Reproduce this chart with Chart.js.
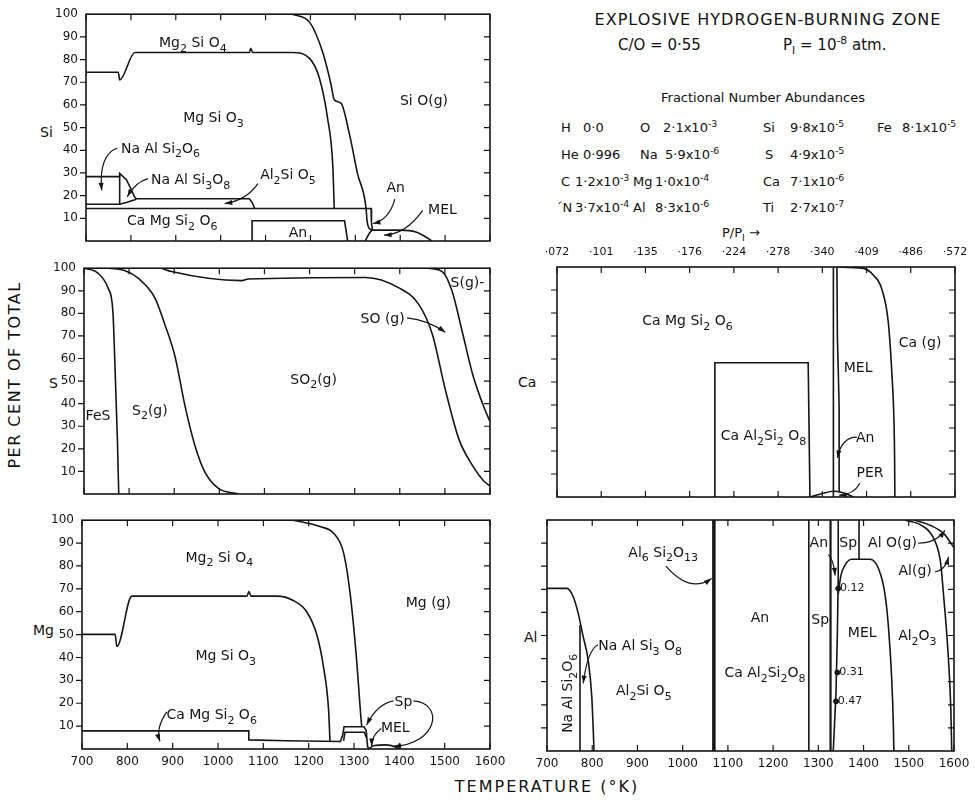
<!DOCTYPE html>
<html>
<head>
<meta charset="utf-8">
<script src="https://cdn.jsdelivr.net/npm/chart.js@4.4.0/dist/chart.umd.min.js"></script>
<style>
body { margin: 0; background: #fff; width: 975px; height: 802px; position: relative; overflow: hidden; font-family: "DejaVu Sans", sans-serif; color: #111; }
canvas { position: absolute; }
.t { position: absolute; white-space: nowrap; line-height: 1; }
.t sub, .t sup { font-size: 72%; line-height: 0; }
.c { transform: translateX(-50%); }
</style>
</head>
<body>

<!-- header block -->
<div class="t c" style="left:768px;top:12px;font-size:16px;letter-spacing:1px">EXPLOSIVE HYDROGEN-BURNING ZONE</div>
<div class="t" style="left:618px;top:38px;font-size:15px">C/O = 0·55</div>
<div class="t" style="left:783px;top:38px;font-size:15px">P<sub>I</sub> = 10<sup>-8</sup> atm.</div>
<div class="t c" style="left:763px;top:91px;font-size:13px">Fractional Number Abundances</div>

<div class="t" style="left:561px;top:121px;font-size:13px">H</div><div class="t" style="left:583px;top:121px;font-size:13px">0·0</div>
<div class="t" style="left:640px;top:121px;font-size:13px">O</div><div class="t" style="left:663px;top:121px;font-size:13px">2·1x10<sup>-3</sup></div>
<div class="t" style="left:763px;top:121px;font-size:13px">Si</div><div class="t" style="left:790px;top:121px;font-size:13px">9·8x10<sup>-5</sup></div>
<div class="t" style="left:877px;top:121px;font-size:13px">Fe</div><div class="t" style="left:902px;top:121px;font-size:13px">8·1x10<sup>-5</sup></div>

<div class="t" style="left:561px;top:148px;font-size:13px">He</div><div class="t" style="left:583px;top:148px;font-size:13px">0·996</div>
<div class="t" style="left:640px;top:148px;font-size:13px">Na</div><div class="t" style="left:665px;top:148px;font-size:13px">5·9x10<sup>-6</sup></div>
<div class="t" style="left:765px;top:148px;font-size:13px">S</div><div class="t" style="left:790px;top:148px;font-size:13px">4·9x10<sup>-5</sup></div>

<div class="t" style="left:561px;top:175px;font-size:13px">C</div><div class="t" style="left:575px;top:175px;font-size:13px">1·2x10<sup>-3</sup></div>
<div class="t" style="left:633px;top:175px;font-size:13px">Mg</div><div class="t" style="left:655px;top:175px;font-size:13px">1·0x10<sup>-4</sup></div>
<div class="t" style="left:763px;top:175px;font-size:13px">Ca</div><div class="t" style="left:790px;top:175px;font-size:13px">7·1x10<sup>-6</sup></div>

<div class="t" style="left:556px;top:201px;font-size:13px">´N</div><div class="t" style="left:575px;top:201px;font-size:13px">3·7x10<sup>-4</sup></div>
<div class="t" style="left:633px;top:201px;font-size:13px">Al</div><div class="t" style="left:655px;top:201px;font-size:13px">8·3x10<sup>-6</sup></div>
<div class="t" style="left:763px;top:201px;font-size:13px">Ti</div><div class="t" style="left:790px;top:201px;font-size:13px">2·7x10<sup>-7</sup></div>

<div class="t" style="left:722px;top:226px;font-size:13px">P/P<sub>I</sub> &#x2192;</div>

<!-- axis titles -->
<div class="t" style="left:15px;top:375px;font-size:16px;letter-spacing:1.5px;transform:translate(-50%,-50%) rotate(-90deg)">PER CENT OF TOTAL</div>
<div class="t c" style="left:547px;top:779px;font-size:16px;letter-spacing:2px">TEMPERATURE (°K)</div>
<div class="t" style="left:40px;top:125px;font-size:14px">Si</div>
<div class="t" style="left:49px;top:376px;font-size:14px">S</div>
<div class="t" style="left:33px;top:623px;font-size:14px">Mg</div>
<div class="t" style="left:518px;top:375px;font-size:14px">Ca</div>
<div class="t" style="left:524px;top:630px;font-size:14px">Al</div>

<script>
// Temperature grid (K) and the P/P_I values along the top of the Ca panel
const tempTicks = [700, 800, 900, 1000, 1100, 1200, 1300, 1400, 1500, 1600];
const pRatio = ['·072', '·101', '·135', '·176', '·224', '·278', '·340', '·409', '·486', '·572'];

// ---- Si: phase boundaries, [T, per cent]
const siSiO = [[1160,100],[1198,96.5],[1227,83.4],[1246,68.9],[1253,62.3],[1268,60.8],[1287,47],[1305,29.6],[1324,14.3],[1326,9],[1330,5.8],[1338,4.8]];
const siForst = [[700,74.4],[772,74.4],[775,71],[809,83.1],[1064,83.1],[1067,85],[1071,83.1],[1160,83.1],[1198,80.5],[1220,71.8],[1238,54.3],[1250,32.4],[1253,14.3]];
const siAlbite = [[700,28.4],[775,28.4],[775,29.8],[790,27],[800,23],[808,19.5],[812,18.6],[1064,18.6],[1070,17],[1076,14.3]];
const siJadeite = [[700,16.2],[775,16.2],[790,17],[812,18.4]];
const siJadEdge = [[775,16.2],[775,28.4]];
const siDiops = [[700,14.3],[1335,14.3],[1336,8],[1338,4.8]];
const siAnorth = [[1070,0],[1070,8.9],[1276,8.9],[1283,0]];
const siMel = [[1322,0],[1330,3],[1338,4.8],[1400,4.8],[1435,4],[1455,2],[1471,0]];

// ---- S
const sFeS = [[700,100],[731,97.8],[753,91.3],[764,81],[768,60.7],[774,24.3],[777,0]];
const sS2 = [[755,100],[790,99],[820,95.6],[857,86.9],[879,75.2],[902,60.7],[924,38.9],[946,21.4],[968,9.7],[998,2.5],[1042,0]];
const sSO2 = [[872,100],[894,98.5],[1050,94.5],[1064,95.2],[1324,95.9],[1398,91.3],[1442,84],[1472,70.9],[1501,46.2],[1531,24.3],[1561,12.7],[1585,6],[1600,3.5]];
const sSg = [[1464,100],[1494,98.5],[1516,89.8],[1538,72.3],[1561,53.4],[1583,40.3],[1600,32]];

// ---- Mg
const mgGas = [[1166,100],[1225,97.2],[1255,94.3],[1277,85.7],[1292,67],[1306,38.4],[1314,16.9],[1317,9.7]];
const mgForst = [[700,50.1],[773,50.1],[777,44.8],[810,66.8],[1064,66.8],[1068,68.8],[1073,66.8],[1130,66.8],[1166,64.9],[1196,59.9],[1218,49.9],[1233,35.5],[1244,16.9],[1247,3.3]];
const mgDiops = [[700,7.9],[1068,7.9],[1068,4],[1150,3.6],[1270,3.3],[1275,6],[1278,9.7],[1322,9.7],[1327,8],[1330,1],[1333,0]];
const mgSpinel = [[1277,3.5],[1280,7.3],[1323,7.3],[1327,5]];
const mgMel = [[1332,0],[1345,1.5],[1370,1.8],[1390,1],[1398,0]];

// ---- Ca
const caAnorth = [[1057,0],[1057,58.4],[1268,58.4],[1272,0]];
const caAnL = [[1325,0],[1325,100]];
const caAnR = [[1333,100],[1334,70],[1336,55],[1338,39],[1338,2]];
const caGas = [[1333,100],[1393,99.4],[1415,96.5],[1434,90.7],[1449,76.2],[1457,54.5],[1462,32.7],[1463.5,15.3],[1464,0]];
const caPer = [[1272,0],[1300,1.5],[1325,2.5],[1345,2],[1370,0]];

// ---- Al
const alNa = [[700,70.4],[744,70.4],[758,66.8],[769,59.6],[780,49.5],[791,39.4],[799,23.5],[802,10.5],[804,0]];
const alJadEdge = [[773,0],[773,54.5]];
const alMullite = [[1069,0],[1069,100]];
const alAnSp = [[1279,0],[1279,100]];
const alSpAn = [[1327,0],[1327,100]];
const alSpMel = [[1344,100],[1344,75],[1342,50],[1339,25],[1333,0]];
const alMel = [[1344,68],[1350,76],[1359,80.5],[1374,83],[1414,83],[1433,79],[1447,68.3],[1455,53.8],[1462,32.2],[1466,10.5],[1467,0]];
const alSpAlO = [[1390,100],[1390,83]];
const alCorund = [[1492,100],[1530,97.5],[1555,92],[1570,82],[1578,65],[1586,45],[1593,18],[1595,0]];
const alGas = [[1512,100],[1550,97.5],[1578,94],[1593,90],[1600,88]];
const alDots = [[1344,70.4],[1342,34],[1339,21.5]];
const alDotText = ['0.12', '0.31', '0.47'];

const INK = '#151515';
const FONT = '"DejaVu Sans", sans-serif';

// tiny markup: _x subscript, ^x superscript, {} groups
function parseRich(s) {
    const out = [];
    let buf = '', i = 0;
    while (i < s.length) {
        const ch = s[i];
        if (ch === '_' || ch === '^') {
            if (buf) { out.push({ t: buf, m: 0 }); buf = ''; }
            let t;
            if (s[i + 1] === '{') { const j = s.indexOf('}', i); t = s.slice(i + 2, j); i = j + 1; }
            else { t = s[i + 1]; i += 2; }
            out.push({ t: t, m: ch === '_' ? 1 : -1 });
        } else { buf += ch; i++; }
    }
    if (buf) out.push({ t: buf, m: 0 });
    return out;
}

function drawRich(ctx, s, x, y, size, align, rot) {
    const segs = parseRich(s);
    const small = Math.round(size * 0.78);
    let w = 0;
    segs.forEach(g => { ctx.font = (g.m ? small : size) + 'px ' + FONT; g.w = ctx.measureText(g.t).width; w += g.w; });
    ctx.save();
    ctx.translate(x, y);
    if (rot) ctx.rotate(rot);
    let cx = align === 'left' ? 0 : (align === 'right' ? -w : -w / 2);
    ctx.textAlign = 'left';
    ctx.textBaseline = 'middle';
    ctx.fillStyle = INK;
    segs.forEach(g => {
        ctx.font = (g.m ? small : size) + 'px ' + FONT;
        ctx.fillText(g.t, cx, g.m * size * 0.38);
        cx += g.w;
    });
    ctx.restore();
}

// frame, tick marks, phase names and leader arrows, all placed through the scales
function overlay(spec) {
    return {
        id: 'overlay',
        afterDatasetsDraw(chart) {
            const ctx = chart.ctx, a = chart.chartArea;
            const xs = chart.scales.x, ys = chart.scales.y;
            ctx.save();
            ctx.strokeStyle = INK;
            ctx.lineWidth = 1.6;
            ctx.strokeRect(a.left, a.top, a.right - a.left, a.bottom - a.top);
            ctx.lineWidth = 1.2;
            ctx.beginPath();
            xs.ticks.forEach(t => {
                const px = xs.getPixelForValue(t.value);
                ctx.moveTo(px, a.bottom); ctx.lineTo(px, a.bottom - 6);
                ctx.moveTo(px, a.top); ctx.lineTo(px, a.top + 6);
            });
            ys.ticks.forEach(t => {
                if (t.value === 0 || t.value === 100) return;
                const py = ys.getPixelForValue(t.value);
                ctx.moveTo(a.left - 6, py); ctx.lineTo(a.left, py);
                ctx.moveTo(a.right, py); ctx.lineTo(a.right - 6, py);
            });
            ctx.stroke();

            // leader arrows
            ctx.lineWidth = 1.2;
            (spec.arrows || []).forEach(p => {
                const P = [];
                for (let i = 0; i < p.length; i += 2) P.push([xs.getPixelForValue(p[i]), ys.getPixelForValue(p[i + 1])]);
                ctx.beginPath();
                ctx.moveTo(P[0][0], P[0][1]);
                if (P.length === 3) ctx.quadraticCurveTo(P[1][0], P[1][1], P[2][0], P[2][1]);
                else ctx.bezierCurveTo(P[1][0], P[1][1], P[2][0], P[2][1], P[3][0], P[3][1]);
                ctx.stroke();
                const e = P[P.length - 1], c = P[P.length - 2];
                const ang = Math.atan2(e[1] - c[1], e[0] - c[0]);
                ctx.beginPath();
                ctx.moveTo(e[0], e[1]);
                ctx.lineTo(e[0] - 8 * Math.cos(ang - 0.32), e[1] - 8 * Math.sin(ang - 0.32));
                ctx.lineTo(e[0] - 8 * Math.cos(ang + 0.32), e[1] - 8 * Math.sin(ang + 0.32));
                ctx.closePath();
                ctx.fillStyle = INK;
                ctx.fill();
            });

            (spec.tags || []).forEach(g => {
                drawRich(ctx, g.t, xs.getPixelForValue(g.x), ys.getPixelForValue(g.y), g.size || 14, g.align || 'center', g.rot || 0);
            });
            ctx.restore();
        }
    };
}

function makePanel(box, lines, spec) {
    const L = 50, R = 25, B = 28;
    const T = spec.top ? 32 : 12;
    const w = box[2] - box[0] + L + R;
    const h = box[3] - box[1] + T + B;
    const c = document.createElement('canvas');
    c.width = w; c.height = h;
    c.style.left = (box[0] - L) + 'px';
    c.style.top = (box[1] - T) + 'px';
    c.style.width = w + 'px';
    c.style.height = h + 'px';
    document.body.appendChild(c);

    const datasets = lines.map(l => ({
        data: l.d.map(p => ({ x: p[0], y: p[1] })),
        borderColor: INK,
        borderWidth: l.w || 1.6,
        pointRadius: 0,
        cubicInterpolationMode: l.s ? 'monotone' : 'default',
        tension: 0,
        fill: false
    }));
    if (spec.dots) {
        datasets.push({ data: spec.dots.map(p => ({ x: p[0], y: p[1] })), showLine: false, pointRadius: 2.5, pointBackgroundColor: INK, pointBorderColor: INK });
    }

    const scales = {
        x: {
            type: 'linear', min: 700, max: 1600,
            afterBuildTicks: s => { s.ticks = tempTicks.map(v => ({ value: v })); },
            grid: { display: false, drawTicks: false },
            border: { display: false },
            ticks: { display: !!spec.xLabels, autoSkip: false, maxRotation: 0, padding: 6, color: INK, font: { family: FONT, size: 12 }, callback: v => String(v) },
            afterFit: s => { s.height = B; }
        },
        y: {
            min: 0, max: 100,
            ticks: { stepSize: 10, display: !!spec.yLabels, padding: 8, color: INK, font: { family: FONT, size: 12 }, callback: v => (v === 0 ? '' : String(v)) },
            grid: { display: false, drawTicks: false },
            border: { display: false },
            afterFit: s => { s.width = L; }
        }
    };
    if (spec.top) {
        scales.x2 = {
            type: 'linear', position: 'top', min: 700, max: 1600,
            afterBuildTicks: s => { s.ticks = tempTicks.map(v => ({ value: v })); },
            grid: { display: false, drawTicks: false },
            border: { display: false },
            ticks: { autoSkip: false, maxRotation: 0, padding: 8, color: INK, font: { family: FONT, size: 11 }, callback: (v, i) => spec.top[i] },
            afterFit: s => { s.height = T; }
        };
    }

    new Chart(c, {
        type: 'line',
        data: { datasets: datasets },
        options: {
            responsive: false,
            animation: false,
            devicePixelRatio: 1,
            layout: { padding: { top: spec.top ? 0 : T, right: R, left: 0, bottom: 0 } },
            scales: scales,
            plugins: { legend: { display: false }, tooltip: { enabled: false } }
        },
        plugins: [overlay(spec)]
    });
}

// Si
makePanel([86, 11, 490, 241], [
    { d: siSiO, s: 1 }, { d: siForst, s: 1 }, { d: siAlbite }, { d: siJadeite }, { d: siJadEdge },
    { d: siDiops }, { d: siAnorth }, { d: siMel, s: 1 }
], {
    yLabels: true,
    tags: [
        { x: 938, y: 87, t: 'Mg_2 Si O_4' }, { x: 984, y: 54, t: 'Mg Si O_3' }, { x: 1453, y: 61.6, t: 'Si O(g)' },
        { x: 866, y: 40.6, t: 'Na Al Si_2O_6' }, { x: 933, y: 26.6, t: 'Na Al Si_3O_8' }, { x: 1150, y: 28.8, t: 'Al_2Si O_5' },
        { x: 892, y: 8.5, t: 'Ca Mg Si_2 O_6' }, { x: 1172, y: 3.4, t: 'An' }, { x: 1390, y: 23, t: 'An' }, { x: 1494, y: 13.5, t: 'MEL' }
    ],
    arrows: [
        [770, 41, 728, 38, 735, 22.3], [838, 27.5, 810, 26, 792, 19.5], [1083, 25.3, 1057, 17.9, 1009, 16.5],
        [1388, 18.5, 1375, 9.2, 1339, 7.7], [1450, 13.5, 1413, 3, 1364, 2.6]
    ]
});

// S
makePanel([84, 265, 490, 494], [
    { d: sFeS, s: 1 }, { d: sS2, s: 1 }, { d: sSO2, s: 1 }, { d: sSg, s: 1 }
], {
    yLabels: true,
    tags: [
        { x: 731, y: 34.5, t: 'FeS' }, { x: 846, y: 36.7, t: 'S_2(g)' }, { x: 1209, y: 50.5, t: 'SO_2(g)' },
        { x: 1362, y: 77.4, t: 'SO (g)' }, { x: 1550, y: 93.4, t: 'S(g)-' }
    ],
    arrows: [[1416, 78, 1463, 77, 1501, 71.6]]
});

// Mg
makePanel([82, 517, 490, 749], [
    { d: mgGas, s: 1 }, { d: mgForst, s: 1 }, { d: mgDiops }, { d: mgSpinel }, { d: mgMel, s: 1 }
], {
    yLabels: true, xLabels: true,
    tags: [
        { x: 1003, y: 83.5, t: 'Mg_2 Si O_4' }, { x: 1017, y: 40.5, t: 'Mg Si O_3' }, { x: 1464, y: 63.5, t: 'Mg (g)' },
        { x: 986, y: 14.7, t: 'Ca Mg Si_2 O_6' }, { x: 1409, y: 20.5, t: 'Sp' }, { x: 1391, y: 9, t: 'MEL' }
    ],
    arrows: [
        [887, 16.2, 862, 9, 872, 3.3], [1387, 21, 1350, 19.5, 1328, 10.5],
        [1431, 21, 1500, 20, 1485, 2, 1387, 1.2], [1360, 9, 1339, 6, 1339, 1.3]
    ]
});

// Ca
makePanel([557, 267, 955, 497], [
    { d: caAnorth }, { d: caAnL }, { d: caAnR }, { d: caGas, s: 1 }, { d: caPer, s: 1 }
], {
    top: pRatio,
    tags: [
        { x: 995, y: 76.2, t: 'Ca Mg Si_2 O_6' }, { x: 1167, y: 26.2, t: 'Ca Al_2Si_2 O_8' }, { x: 1381, y: 56, t: 'MEL' },
        { x: 1521, y: 66.8, t: 'Ca (g)' }, { x: 1397, y: 25.5, t: 'An' }, { x: 1408, y: 10.3, t: 'PER' }
    ],
    arrows: [[1378, 26, 1344, 26, 1334, 17], [1385, 6, 1371, 1, 1338, 0.8]]
});

// Al
makePanel([547, 520, 954, 751], [
    { d: alNa, s: 1 }, { d: alJadEdge }, { d: alMullite, w: 3.5 }, { d: alAnSp }, { d: alSpAn, w: 2.2 },
    { d: alSpMel }, { d: alMel, s: 1 }, { d: alSpAlO }, { d: alCorund, s: 1 }, { d: alGas, s: 1 }
], {
    xLabels: true,
    dots: alDots,
    tags: [
        { x: 957, y: 85.6, t: 'Al_6 Si_2O_{13}' }, { x: 906, y: 45.2, t: 'Na Al Si_3 O_8' }, { x: 748, y: 25, t: 'Na Al Si_2O_6', rot: -Math.PI / 2 },
        { x: 914, y: 25.7, t: 'Al_2Si O_5' }, { x: 1171, y: 57.4, t: 'An' }, { x: 1182, y: 33.6, t: 'Ca Al_2Si_2O_8' },
        { x: 1304, y: 56.7, t: 'Sp' }, { x: 1301, y: 89.9, t: 'An' }, { x: 1366, y: 89.9, t: 'Sp' },
        { x: 1464, y: 89.9, t: 'Al O(g)' }, { x: 1514, y: 77.6, t: 'Al(g)' }, { x: 1397, y: 51, t: 'MEL' }, { x: 1519, y: 49.5, t: 'Al_2O_3' },
        { x: 1348, y: alDots[0][1], t: alDotText[0], size: 11, align: 'left' },
        { x: 1346, y: alDots[1][1], t: alDotText[1], size: 11, align: 'left' },
        { x: 1343, y: alDots[2][1], t: alDotText[2], size: 11, align: 'left' }
    ],
    arrows: [
        [963, 80, 1016, 68, 1064, 74.7], [813, 46, 790, 44, 780, 29.3], [1322, 85, 1334, 83, 1337, 76],
        [1521, 90, 1560, 90, 1580, 95.5], [1558, 77.6, 1580, 78, 1588, 84]
    ]
});
</script>
</body>
</html>
